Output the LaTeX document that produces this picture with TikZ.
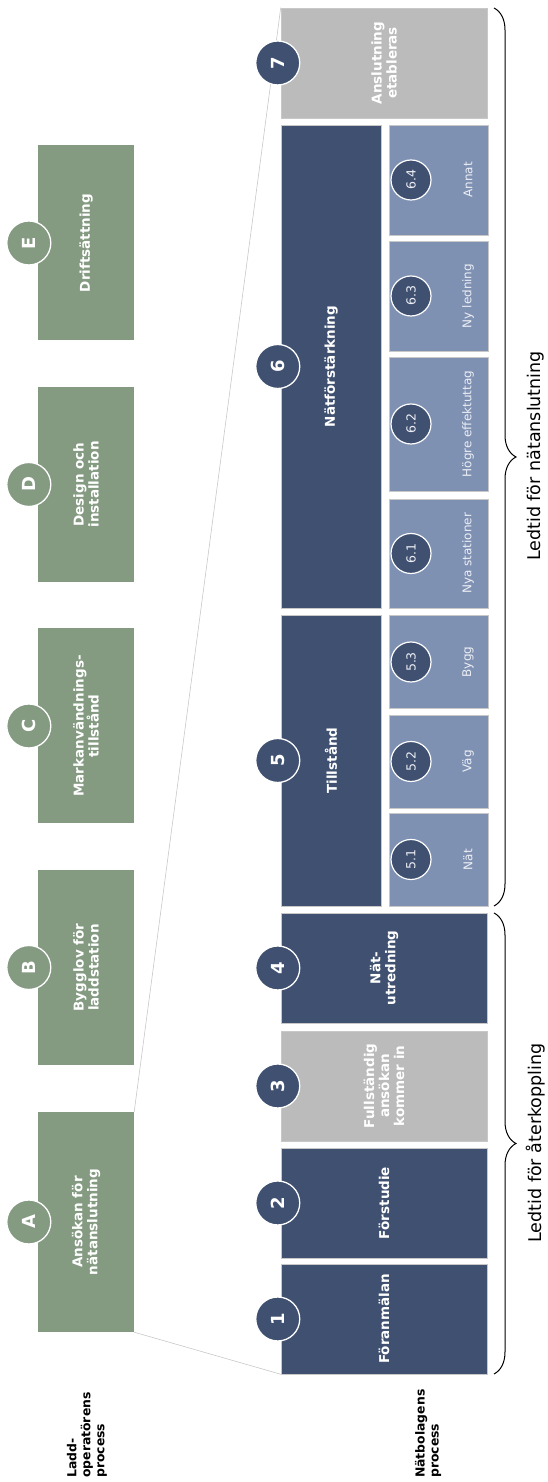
\documentclass[tikz,border=0pt]{standalone}
\usepackage{fontspec}
\setmainfont{DejaVu Sans}
\usepackage{xcolor}
\usepackage{tikz}
\usetikzlibrary{calc,positioning,backgrounds,decorations.pathreplacing}
\definecolor{figNavy}{HTML}{3F5070}
\definecolor{figSteel}{HTML}{7F91B3}
\definecolor{figSilver}{HTML}{BBBBBB}
\definecolor{figSage}{HTML}{849B82}
\definecolor{figRule}{HTML}{C8C8C8}

\begin{document}
\begin{tikzpicture}[
  x=1pt, y=1pt,
  rotate=90, transform shape,
  every node/.style={inner sep=0pt},
  stage/.style={rectangle, align=center, text=white,
    font=\fontsize{13.5}{15}\selectfont\bfseries},
  laddbox/.style={stage, fill=figSage, minimum height=96},
  natbox/.style={stage, fill=figNavy, draw=figRule, line width=0.5pt, minimum height=206},
  greybox/.style={natbox, fill=figSilver},
  subbox/.style={rectangle, fill=figSteel, draw=figRule, line width=0.5pt, minimum height=99},
  subtext/.style={text=white!85!figSteel, font=\fontsize{12}{14}\selectfont},
  badge/.style={circle, minimum size=44, draw=white, line width=1.3pt, text=white,
    font=\fontsize{18}{18}\selectfont\bfseries},
  subbadge/.style={circle, minimum size=40, draw=white, line width=1.2pt, fill=figNavy,
    text=white!85!figSteel, font=\fontsize{12.5}{14}\selectfont},
  rowlabel/.style={anchor=west, align=left, font=\fontsize{12.4}{14}\selectfont\bfseries},
  ledbrace/.style={decorate, decoration={brace, amplitude=22pt}, line width=1pt},
]

% drawn lying down, turned upright by rotate=90
\useasboundingbox (0,0) rectangle (1482,547);

% --- Row labels ---
\node[rowlabel] (ladd) at (4,460) {Ladd-\\operatörens\\process};
\node[rowlabel] (natb) at (4,119) {Nätbolagens\\process};

% --- Laddoperatörens steg ---
\node[laddbox, minimum width=220] (A) at (260,461)    {Ansökan för\\nätanslutning};
\node[laddbox, minimum width=195] (B) at (514.5,461)  {Bygglov för\\laddstation};
\node[laddbox, minimum width=195] (C) at (756,461)    {Markanvändnings-\\tillstånd};
\node[laddbox, minimum width=195] (D) at (997.5,461)  {Design och\\installation};
\node[laddbox, minimum width=195] (E) at (1239,461)   {Driftsättning};

% --- Nätbolagens steg ---
\node[natbox,  minimum width=110] (s1) at (163,163) {Föranmälan};
\node[natbox,  minimum width=110] (s2) at (279,163) {Förstudie};
\node[greybox, minimum width=110] (s3) at (396,163) {Fullständig\\ansökan\\kommer in};
\node[natbox,  minimum width=110] (s4) at (514,163) {Nät-\\utredning};
\node[natbox,  minimum width=291, minimum height=100] (s5) at (721.5,216) {Tillstånd};
\node[natbox,  minimum width=483, minimum height=100] (s6) at (1115.5,216) {Nätförstärkning};
\node[greybox, minimum width=110] (s7) at (1419,163) {Anslutning\\etableras};

% --- Delsteg under 5 och 6 ---
\foreach \id/\num/\u/\w/\txt in {51/5.1/622.5/93/Nät, 52/5.2/720.5/93/Väg, 53/5.3/820/93/Bygg,
    61/6.1/928.5/109/Nya stationer, 62/6.2/1058/134/Högre effektuttag,
    63/6.3/1186/110/Ny ledning, 64/6.4/1302/110/Annat} {
  \node[subbox, minimum width=\w] (p\id) at (\u,108.5) {};
  \node[subtext] (t\id) at (\u,79) {\txt};
  \node[subbadge] (n\id) at (\u,136) {\num};
}

% --- Badges ---
\foreach \s in {A,B,C,D,E} {
  \node[badge, fill=figSage] (c\s) at ($(\s.north)+(0,9)$) {\s};
}
\foreach \s in {1,...,7} {
  \node[badge, fill=figNavy] (c\s) at ($(s\s.north)+(0,3)$) {\s};
}

% --- Zoom lines from A ---
\begin{scope}[on background layer]
  \draw[figRule, line width=0.6pt] (A.south west) -- (s1.north west);
  \draw[figRule, line width=0.6pt] (A.south east) -- (s7.north east);
\end{scope}

% --- Braces ---
\coordinate (ba) at (108,53);
\coordinate (bb) at (569,53);
\coordinate (bc) at (576,53);
\coordinate (bd) at (1474,53);
\draw[ledbrace] (bb) -- (ba);
\draw[ledbrace] (bd) -- (bc);
\node[font=\fontsize{17.5}{20}\selectfont] (ledA) at (339,11)  {Ledtid för återkoppling};
\node[font=\fontsize{17.5}{20}\selectfont] (ledB) at (1026,11) {Ledtid för nätanslutning};

\end{tikzpicture}
\end{document}
